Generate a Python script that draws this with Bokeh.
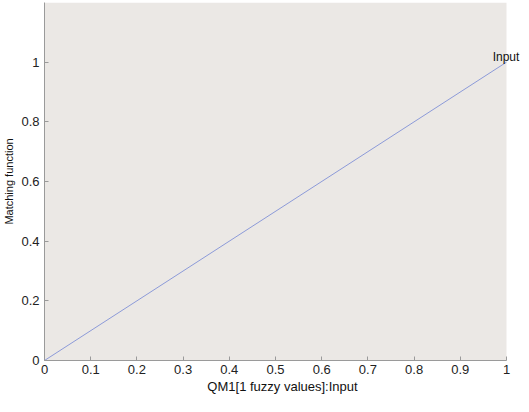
from bokeh.plotting import figure
from bokeh.models import FixedTicker, Range1d, Label
from bokeh.embed import file_html
from bokeh.resources import INLINE

# data
input_x = [0.0, 1.0]
matching_y = [0.0, 1.0]
x_ticks = [0, 0.1, 0.2, 0.3, 0.4, 0.5, 0.6, 0.7, 0.8, 0.9, 1]
x_tick_labels = ["0", "0.1", "0.2", "0.3", "0.4", "0.5", "0.6", "0.7", "0.8", "0.9", "1"]
y_ticks = [0, 0.2, 0.4, 0.6, 0.8, 1]
y_tick_labels = ["0", "0.2", "0.4", "0.6", "0.8", "1"]
series_name = "Input"
series_label_pos = (0.97, 1.017)
x_label = "QM1[1 fuzzy values]:Input"
y_label = "Matching function"
x_min, x_max = 0, 1
y_min, y_max = 0, 1.2

p = figure(width=521, height=396, output_backend="svg", toolbar_location=None,
           x_range=Range1d(x_min, 1.0303), y_range=Range1d(y_min, y_max),
           min_border_left=44, min_border_right=1, min_border_top=2, min_border_bottom=31)
p.background_fill_color = "#ffffff"
p.border_fill_color = "#ffffff"
p.outline_line_color = None
p.grid.visible = False

p.quad(left=[x_min], right=[x_max], bottom=[y_min], top=[y_max],
       fill_color="#ebe8e5", line_color=None, level="underlay")

p.line(input_x, matching_y, line_color="#8c9ad8", line_width=1)

p.add_layout(Label(x=series_label_pos[0], y=series_label_pos[1], text=series_name,
                   text_align="left", text_baseline="alphabetic",
                   text_font="Liberation Sans", text_font_size="12px", text_color="#111111"))

for ax, ticks, labels in ((p.xaxis[0], x_ticks, x_tick_labels), (p.yaxis[0], y_ticks, y_tick_labels)):
    ax.ticker = FixedTicker(ticks=ticks)
    ax.major_label_overrides = {t: l for t, l in zip(ticks, labels)}
    ax.minor_tick_line_color = None
    ax.major_tick_in = 4
    ax.major_tick_out = 0
    ax.axis_line_color = "#9a9a9a"
    ax.major_tick_line_color = "#9a9a9a"
    ax.major_label_text_font = "Liberation Sans"
    ax.major_label_text_font_size = "13px"
    ax.major_label_text_color = "#222222"
    ax.axis_label_text_font = "Liberation Sans"
    ax.axis_label_text_font_style = "normal"
    ax.axis_label_text_color = "#111111"

p.xaxis.bounds = (x_min, x_max)
p.yaxis.bounds = (y_min, y_max)
p.xaxis.axis_label = x_label
p.yaxis.axis_label = y_label
p.xaxis.axis_label_text_font_size = "13px"
p.yaxis.axis_label_text_font_size = "11px"
p.xaxis.major_label_standoff = 4
p.yaxis.major_label_standoff = 5
p.xaxis.axis_label_standoff = 2
p.yaxis.axis_label_standoff = 3

open("out.html", "w").write(file_html(p, INLINE))
